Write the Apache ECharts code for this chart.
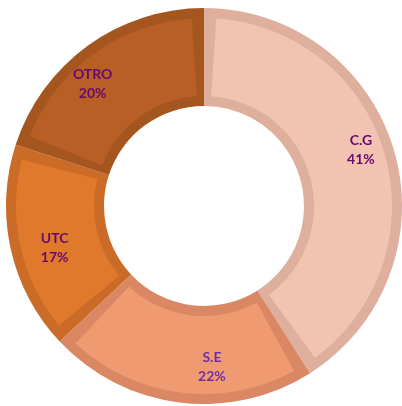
<!DOCTYPE html>
<html>
<head>
<meta charset="utf-8">
<script src="https://cdn.jsdelivr.net/npm/echarts@6/dist/echarts.min.js"></script>
<style>
  html, body { margin: 0; padding: 0; background: #fff; }
  #chart { width: 402px; height: 406px; }
</style>
</head>
<body>
<div id="chart"></div>
<script>
const categories = ['C.G', 'S.E', 'UTC', 'OTRO']
const shares = [41, 22, 17, 20]

const fillColors = ['#f2c3b0', '#ef9a70', '#e1792d', '#b85f26']
const edgeColors = ['#dfaf9e', '#da8864', '#ca6b27', '#a5561f']
const labelColors = ['#660a6e', '#7030a0', '#660a6e', '#660a6e']
// nudges so labels sit where the original placed them
const labelShift = [[11, -14], [27, 10], [-1, 9], [-22, 1]]

const chart = echarts.init(document.getElementById('chart'))

const center = [204, 206]

chart.setOption({
  animation: false,
  series: [{
    // darker rim under each slice
    type: 'pie',
    silent: true,
    center: center,
    radius: [100, 198],
    startAngle: 90,
    label: { show: false },
    labelLine: { show: false },
    data: categories.map((name, i) => ({
      name,
      value: shares[i],
      itemStyle: { color: edgeColors[i] }
    }))
  }, {
    type: 'pie',
    center: center,
    radius: [110, 188],
    startAngle: 90,
    padAngle: 7.5,
    label: {
      show: true,
      position: 'inside',
      fontFamily: 'Lato',
      fontWeight: 'bold',
      fontSize: 14,
      lineHeight: 19,
      formatter: p => p.name + '\n' + p.value + '%'
    },
    labelLine: { show: false },
    labelLayout: params => ({
      dx: labelShift[params.dataIndex][0],
      dy: labelShift[params.dataIndex][1]
    }),
    data: categories.map((name, i) => ({
      name,
      value: shares[i],
      itemStyle: { color: fillColors[i] },
      label: { color: labelColors[i] }
    }))
  }]
})
</script>
</body>
</html>
